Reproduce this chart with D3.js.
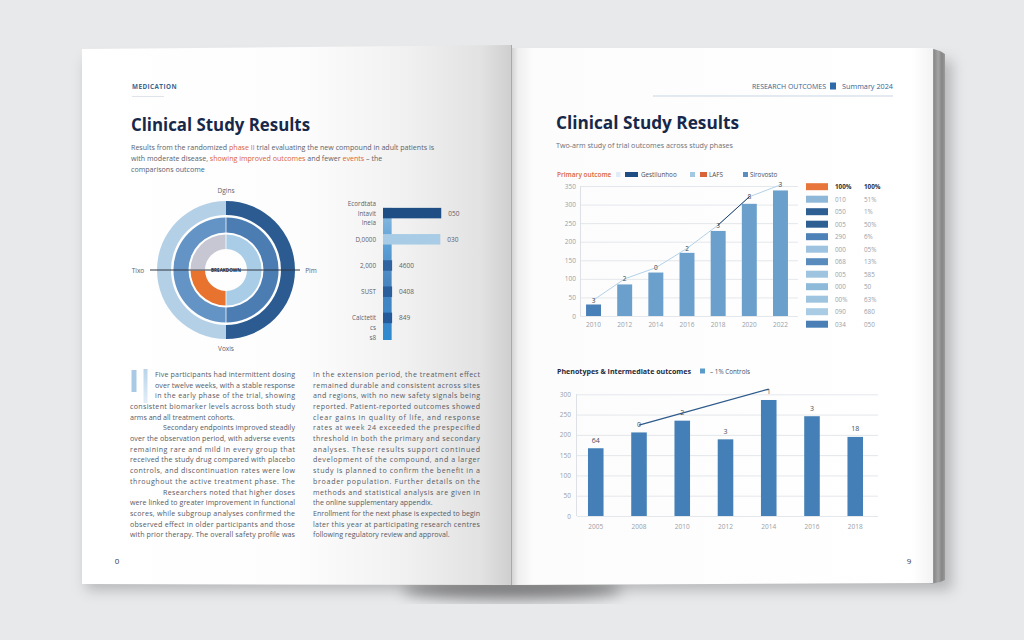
<!DOCTYPE html>
<html>
<head>
<meta charset="utf-8">
<script src="https://d3js.org/d3.v7.min.js"></script>
<style>
    body { margin: 0; background: #e8e9eb; }
    svg { display: block; font-family: "Open Sans", "Liberation Sans", sans-serif; }
    .tick line { display: none; }
    .domain { display: none; }
</style>
</head>
<body>
<script>
    // ---- data ----
    const ringOuter = [50, 50];
    const ringMiddle = [50, 50];
    const ringInner = [50, 25, 25];
    const ringOuterColors = ["#2b5b91", "#b4d0e7"];
    const ringMiddleColors = ["#4b7db3", "#6494c5"];
    const ringInnerColors = ["#a9cde6", "#e8732e", "#c7c7d4"];
    const ringLabels = ["Dgins", "Pim", "Voxis", "Tixo"];

    const fCats = ["Endpoints", "Dosage", "Efficacy", "Safety", "Combined"];
    const fValues = [64, 63, 10, 10, 10];
    const fColors = ["#1f4e85", "#a9cce6", "#2f64a0", "#2b5f9c", "#24599a"];
    const fValueLabels = ["050", "030", "4600", "0408", "849"];
    const fSubLabels = [["Ecordtata", "Intavit", "Ineia"], ["D,0000"], ["2,000"], ["SUST"], ["Calctetit", "cs", "s8"]];

    const years1 = ["2010", "2012", "2014", "2016", "2018", "2020", "2022"];
    const bars1 = [31, 85, 117, 170, 229, 302, 338];
    const line1 = [43, 100, 130, 182, 245, 321, 353];
    const pointLabels1 = ["3", "2", "0", "2", "3", "8", "3"];
    const legend1Labels = ["Gestilunhoo", "LAFS", "Sirovosto"];
    const legend1Colors = ["#1f4e85", "#d9643a", "#5b8dc0"];

    const tableColors = ["#e8763a", "#8fb8d8", "#2d5f93", "#2d5f93", "#4d82b8", "#9dc3e0",
        "#5a8bbd", "#9ec4e0", "#8dbad9", "#9ec4e0", "#a9cbe4", "#4a7fb5"];
    const tableCol1 = ["100%", "010", "050", "005", "290", "000", "068", "005", "000", "00%", "090", "034"];
    const tableCol2 = ["100%", "51%", "1%", "50%", "6%", "05%", "13%", "585", "50", "63%", "680", "050"];

    const years2 = ["2005", "2008", "2010", "2012", "2014", "2016", "2018"];
    const bars2 = [167, 206, 235, 189, 286, 246, 195];
    const barLabels2 = ["64", "0", "2", "3", "1", "3", "18"];
    const trend2 = [{ year: "2008", v: 224 }, { year: "2014", v: 313 }];

    const leftColumn = [
        "Five participants had intermittent dosing",
        "over twelve weeks, with a stable response",
        "in the early phase of the trial, showing",
        "consistent biomarker levels across both study",
        "arms and all treatment cohorts.",
        "Secondary endpoints improved steadily",
        "over the observation period, with adverse events",
        "remaining rare and mild in every group that",
        "received the study drug compared with placebo",
        "controls, and discontinuation rates were low",
        "throughout the active treatment phase. The",
        "Researchers noted that higher doses",
        "were linked to greater improvement in functional",
        "scores, while subgroup analyses confirmed the",
        "observed effect in older participants and those",
        "with prior therapy. The overall safety profile was"
    ];
    const rightColumn = [
        "In the extension period, the treatment effect",
        "remained durable and consistent across sites",
        "and regions, with no new safety signals being",
        "reported. Patient-reported outcomes showed",
        "clear gains in quality of life, and response",
        "rates at week 24 exceeded the prespecified",
        "threshold in both the primary and secondary",
        "analyses. These results support continued",
        "development of the compound, and a larger",
        "study is planned to confirm the benefit in a",
        "broader population. Further details on the",
        "methods and statistical analysis are given in",
        "the online supplementary appendix.",
        "Enrollment for the next phase is expected to begin",
        "later this year at participating research centres",
        "following regulatory review and approval."
    ];
    const introLines = [
        [["Results from the randomized ", "#5d626c"], ["phase II", "#d9643a"], [" trial evaluating the new compound in adult patients is", "#5d626c"]],
        [["with moderate disease, ", "#5d626c"], ["showing improved outcomes", "#d9643a"], [" and fewer ", "#5d626c"], ["events", "#d9643a"], [" – the", "#5d626c"]],
        [["comparisons    ", "#5d626c"], ["outcome", "#3b6591"]]
    ];

    // ---- setup ----
    const svg = d3.select("body").append("svg").attr("width", 1024).attr("height", 640);
    const defs = svg.append("defs");

    function gradient(id, stops, vertical) {
        const g = defs.append("linearGradient").attr("id", id)
            .attr("x1", 0).attr("y1", 0).attr("x2", vertical ? 0 : 1).attr("y2", vertical ? 1 : 0);
        stops.forEach(([o, c]) => g.append("stop").attr("offset", o).attr("stop-color", c));
    }
    gradient("leftPage", [[0, "#ffffff"], [0.5, "#fdfdfd"], [0.75, "#f1f1f1"], [0.93, "#e2e2e2"], [1, "#cfcfcf"]]);
    gradient("rightPage", [[0, "#d4d4d4"], [0.015, "#efefef"], [0.05, "#fcfcfc"], [0.95, "#ffffff"], [1, "#f3f3f3"]]);
    gradient("stack", [[0, "#b9b9b9"], [0.3, "#8c8c8c"], [0.55, "#a4a4a4"], [0.8, "#858585"], [1, "#9b9b9b"]]);
    gradient("stem", [[0, "#8fbde0"], [0.3, "#5a9fd6"], [0.55, "#4a86c0"], [0.75, "#3f86c5"], [1, "#2f8ad0"]], true);
    gradient("dropcap", [[0, "#b9d4ea"], [1, "#e2eef8"]], true);

    const blur = defs.append("filter").attr("id", "blur")
        .attr("x", "-10%").attr("y", "-10%").attr("width", "120%").attr("height", "130%");
    blur.append("feGaussianBlur").attr("stdDeviation", 7);

    svg.append("rect").attr("width", 1024).attr("height", 640).attr("fill", "#e8e9eb");

    // book shadow
    svg.append("rect").attr("x", 86).attr("y", 60).attr("width", 866).attr("height", 530)
        .attr("fill", "rgba(0,0,0,0.22)").attr("filter", "url(#blur)");
    svg.append("ellipse").attr("cx", 512).attr("cy", 590).attr("rx", 110).attr("ry", 10)
        .attr("fill", "rgba(0,0,0,0.4)").attr("filter", "url(#blur)");

    // page stack
    svg.append("path").attr("d", "M930,48 L940,51 L945,54 L945,580 L940,582 L930,584 Z").attr("fill", "url(#stack)");

    // pages
    svg.append("path").attr("d", "M82,49 L511,45 L511,585 L82,584 Z").attr("fill", "url(#leftPage)");
    svg.append("path").attr("d", "M512,48 L933,48 L933,583 L512,585 Z").attr("fill", "url(#rightPage)");
    svg.append("line").attr("x1", 511.5).attr("x2", 511.5).attr("y1", 45).attr("y2", 585)
        .attr("stroke", "#a9a9a9").attr("stroke-width", 1);

    function txt(g, x, y, s, size, fill, opts = {}) {
        const t = g.append("text").attr("x", x).attr("y", y).text(s)
            .attr("font-size", size).attr("fill", fill);
        if (opts.weight) t.attr("font-weight", opts.weight);
        if (opts.anchor) t.attr("text-anchor", opts.anchor);
        if (opts.len) t.attr("textLength", opts.len).attr("lengthAdjust", opts.adjust || "spacingAndGlyphs");
        if (opts.spacing) t.attr("letter-spacing", opts.spacing);
        return t;
    }

    // ================= LEFT PAGE =================
    const L = svg.append("g");
    txt(L, 132, 89, "MEDICATION", 7, "#3b6591", { weight: 700, len: 45, spacing: 0.5 });
    L.append("line").attr("x1", 132).attr("x2", 164).attr("y1", 96.5).attr("y2", 96.5).attr("stroke", "#dfe4ea");
    txt(L, 131, 131, "Clinical Study Results", 17.5, "#17284a", { weight: 700, len: 179 });

    const introY = [149.5, 160.5, 171.5];
    introLines.forEach((parts, i) => {
        const line = L.append("text").attr("x", 131).attr("y", introY[i]).attr("font-size", 7.1);
        parts.forEach(([s, c]) => line.append("tspan").attr("fill", c).text(s));
    });

    // ring chart
    const cx = 226, cy = 270;
    const ring = L.append("g").attr("transform", `translate(${cx},${cy})`);
    const pie = d3.pie().sort(null).startAngle(0).endAngle(2 * Math.PI);
    [[ringOuter, ringOuterColors, 55, 69, 0], [ringMiddle, ringMiddleColors, 37.5, 52.5, 0.012],
        [ringInner, ringInnerColors, 21, 35.5, 0.02]].forEach(([vals, cols, r0, r1, pad]) => {
        const arc = d3.arc().innerRadius(r0).outerRadius(r1).padAngle(pad);
        ring.selectAll(null).data(pie(vals)).join("path")
            .attr("d", arc).attr("fill", (d, i) => cols[i]);
    });
    ring.append("line").attr("x1", -76).attr("x2", 74).attr("y1", 0).attr("y2", 0)
        .attr("stroke", "#2e3440").attr("stroke-width", 1);
    txt(ring, 0, 2, "BREAKDOWN", 5.2, "#1e2a40", { weight: 700, anchor: "middle", len: 30 });
    const labelPos = [[0, -77], [85, 2.5], [0, 81], [-88, 2.5]];
    ringLabels.forEach((s, i) => txt(ring, labelPos[i][0], labelPos[i][1], s, 6.5, "#5d626c", { anchor: "middle" }));

    // F-shaped bar chart
    const fy = d3.scaleBand().domain(fCats).range([200, 331]).paddingInner(0.6).paddingOuter(0.3);
    const fx = d3.scaleLinear().domain([0, 100]).range([383, 474]);
    L.append("rect").attr("x", fx(0)).attr("width", fx(9.5) - fx(0))
        .attr("y", fy(fCats[0])).attr("height", 340 - fy(fCats[0])).attr("fill", "url(#stem)");
    L.selectAll(".fbar").data(fCats).join("rect").attr("class", "fbar")
        .attr("x", fx(0)).attr("y", d => fy(d)).attr("height", fy.bandwidth())
        .attr("width", (d, i) => fx(fValues[i]) - fx(0)).attr("fill", (d, i) => fColors[i]);
    fCats.forEach((c, i) => {
        const yc = fy(c) + fy.bandwidth() / 2;
        txt(L, fx(fValues[i]) + 7, yc + 2.5, fValueLabels[i], 6.5, "#5d626c");
        const start = i === 0 ? -1 : 0;
        fSubLabels[i].forEach((s, j) => txt(L, 376, yc + 2.5 + (j + start) * 9.8, s, 6.3, "#5d626c", { anchor: "end" }));
    });

    // body text
    L.append("rect").attr("x", 131.5).attr("y", 370).attr("width", 5).attr("height", 22).attr("fill", "#a9c9e4");
    L.append("rect").attr("x", 143.5).attr("y", 369).attr("width", 4).attr("height", 34).attr("fill", "url(#dropcap)");
    const lh = 10.7, y0 = 376.8;
    leftColumn.forEach((s, i) => {
        let x = 130, w = 165;
        if (i < 3) { x = 155; w = 140; }
        if (i === 5 || i === 11) { x = 163; w = 132; }
        const full = i !== 4;
        txt(L, x, y0 + i * lh, s, 7.1, "#565b66", full ? { len: w, adjust: "spacing" } : {});
    });
    rightColumn.forEach((s, i) => {
        const full = i !== 12 && i !== 15;
        txt(L, 313, y0 + i * lh, s, 7.1, "#565b66", full ? { len: 167, adjust: "spacing" } : {});
    });
    txt(L, 117, 564, "0", 8, "#333a45", { anchor: "middle" });

    // ================= RIGHT PAGE =================
    const R = svg.append("g");
    txt(R, 752, 88.5, "RESEARCH OUTCOMES", 6.3, "#3b6591", { len: 74 });
    R.append("rect").attr("x", 830).attr("y", 82.5).attr("width", 6).attr("height", 7).attr("fill", "#2f6aa8");
    txt(R, 842, 88.5, "Summary 2024", 6.3, "#3b6591", { len: 51 });
    R.append("line").attr("x1", 653).attr("x2", 893).attr("y1", 96).attr("y2", 96).attr("stroke", "#c9d5e2");
    txt(R, 556, 129, "Clinical Study Results", 17.5, "#17284a", { weight: 700, len: 183 });
    txt(R, 556, 148, "Two-arm study of trial outcomes across study phases", 7, "#6a6f78", { len: 177 });

    // legend row
    txt(R, 557, 177, "Primary outcome", 6.5, "#d9643a", { weight: 600 });
    R.append("rect").attr("x", 616).attr("y", 172).attr("width", 4.5).attr("height", 5).attr("fill", "#e0ecf6");
    const legX = [[625, 13, 641], [700, 7, 709], [743, 5, 750]];
    legend1Labels.forEach((s, i) => {
        R.append("rect").attr("x", legX[i][0]).attr("y", 172).attr("width", legX[i][1]).attr("height", 5)
            .attr("fill", legend1Colors[i]);
        txt(R, legX[i][2], 177, s, 6.3, "#4a4f5a");
    });
    R.append("rect").attr("x", 690).attr("y", 172).attr("width", 5).attr("height", 5).attr("fill", "#a5c8e2");

    // chart 1
    const axisText = g => g.selectAll("text").attr("font-size", 6.5).attr("fill", "#9aa0a8").attr("font-family", "Open Sans");
    const x1 = d3.scaleBand().domain(years1).range([576.7, 797.3]).paddingInner(0.52).paddingOuter(0.3);
    const y1 = d3.scaleLinear().domain([0, 350]).range([316, 186]);
    const c1 = R.append("g");
    c1.selectAll(".g1").data(y1.ticks(7)).join("line").attr("class", "g1")
        .attr("x1", 580).attr("x2", 798).attr("y1", d => y1(d) + 0.5).attr("y2", d => y1(d) + 0.5)
        .attr("stroke", "#e4e7eb");
    c1.append("line").attr("x1", 580.5).attr("x2", 580.5).attr("y1", 186).attr("y2", 316).attr("stroke", "#dde1e6");
    c1.append("g").attr("transform", "translate(580,0)")
        .call(d3.axisLeft(y1).ticks(7).tickSize(0).tickPadding(4)).call(axisText);
    c1.append("g").attr("transform", "translate(0,316)")
        .call(d3.axisBottom(x1).tickSize(0).tickPadding(6)).call(axisText);
    c1.selectAll(".b1").data(years1).join("rect").attr("class", "b1")
        .attr("x", d => x1(d)).attr("width", x1.bandwidth())
        .attr("y", (d, i) => y1(bars1[i])).attr("height", (d, i) => y1(0) - y1(bars1[i]))
        .attr("fill", (d, i) => i === 0 ? "#4a80b8" : "#6b9fcc");
    const pts1 = years1.map((d, i) => [x1(d) + x1.bandwidth() / 2, y1(line1[i])]);
    c1.append("path").attr("d", d3.line()(pts1)).attr("fill", "none").attr("stroke", "#b3d2ea").attr("stroke-width", 1);
    c1.append("path").attr("d", d3.line()(pts1.slice(4, 6))).attr("fill", "none").attr("stroke", "#1f3f6a").attr("stroke-width", 1);
    pointLabels1.forEach((s, i) => txt(c1, pts1[i][0], pts1[i][1] + 2.5, s, 6.5, "#3a3f48", { anchor: "middle" }));

    // table
    tableColors.forEach((c, i) => {
        const yy = 186.7 + i * 12.5;
        R.append("rect").attr("x", 806).attr("y", yy - 3.5).attr("width", 22).attr("height", 7).attr("fill", c);
        const opt = i === 0 ? { weight: 700 } : {};
        txt(R, 835, yy + 2.3, tableCol1[i], 6.3, i === 0 ? "#2b2f38" : "#9aa0a8", opt);
        txt(R, 864, yy + 2.3, tableCol2[i], 6.3, i === 0 ? "#2b2f38" : "#9aa0a8", opt);
    });

    // chart 2
    txt(R, 557, 373.5, "Phenotypes & Intermediate outcomes", 7, "#1f2a40", { weight: 700, len: 134 });
    R.append("rect").attr("x", 700).attr("y", 368.5).attr("width", 5).attr("height", 5).attr("fill", "#5a9bc8");
    txt(R, 710, 373.5, "– 1% Controls", 6.3, "#4a4f5a");
    const x2 = d3.scaleBand().domain(years2).range([575, 876]).paddingInner(0.64).paddingOuter(0.3);
    const y2 = d3.scaleLinear().domain([0, 300]).range([516, 394.3]);
    const c2 = R.append("g");
    c2.selectAll(".g2").data(y2.ticks(6)).join("line").attr("class", "g2")
        .attr("x1", 577).attr("x2", 878).attr("y1", d => y2(d) + 0.5).attr("y2", d => y2(d) + 0.5)
        .attr("stroke", "#e4e7eb");
    c2.append("line").attr("x1", 576.5).attr("x2", 576.5).attr("y1", 394).attr("y2", 516).attr("stroke", "#dde1e6");
    c2.append("g").attr("transform", "translate(574,0)")
        .call(d3.axisLeft(y2).ticks(6).tickSize(0).tickPadding(3)).call(axisText);
    c2.append("g").attr("transform", "translate(0,516)")
        .call(d3.axisBottom(x2).tickSize(0).tickPadding(8)).call(axisText);
    c2.selectAll(".b2").data(years2).join("rect").attr("class", "b2")
        .attr("x", d => x2(d)).attr("width", x2.bandwidth())
        .attr("y", (d, i) => y2(bars2[i])).attr("height", (d, i) => y2(0) - y2(bars2[i]))
        .attr("fill", "#4480b7");
    const tline = d3.line().x(d => x2(d.year) + x2.bandwidth() / 2).y(d => y2(d.v));
    c2.append("path").attr("d", tline(trend2)).attr("fill", "none").attr("stroke", "#2c5a8a").attr("stroke-width", 1.3);
    barLabels2.forEach((s, i) => txt(c2, x2(years2[i]) + x2.bandwidth() / 2, y2(bars2[i]) - 5.5, s, 7, "#4a4f5a", { anchor: "middle" }));

    txt(R, 909, 564, "9", 8, "#333a45", { anchor: "middle" });
</script>
</body>
</html>
